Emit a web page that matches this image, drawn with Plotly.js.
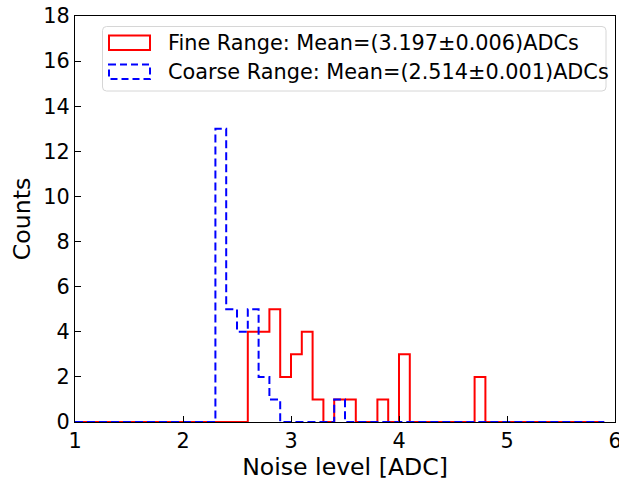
<!DOCTYPE html>
<html><head><meta charset="utf-8">
<script src="https://cdn.plot.ly/plotly-3.0.1.min.js"></script>
<style>body{margin:0;padding:0;background:#fff}#chart{width:619px;height:482px}</style>
</head><body><div id="chart"></div>
<script>
// bin edges 1.0 .. 5.9 step 0.1 (49 bins)
const binStart = 1.0, binWidth = 0.1;
// counts per bin, from bin [1.0,1.1) onward
const fineCounts = [0,0,0,0,0,0,0,0,0,0, 0,0,0,0,0,0,4,4,5,2, 3,4,1,0,1,1,0,0,1,0, 3,0,0,0,0,0,0,2,0,0, 0,0,0,0,0,0,0,0,0];
const coarseCounts = [0,0,0,0,0,0,0,0,0,0, 0,0,0,13,5,4,5,2,1,0, 0,0,0,0,1,0,0,0,0,0, 0,0,0,0,0,0,0,0,0,0, 0,0,0,0,0,0,0,0,0];
const seriesNames = ["Fine Range: Mean=(3.197±0.006)ADCs", "Coarse Range: Mean=(2.514±0.001)ADCs"];
const xTicks = [1,2,3,4,5,6];
const yTicks = [0,2,4,6,8,10,12,14,16,18];

function stepXY(counts){
  const x = [], y = [];
  for (let i = 0; i <= counts.length; i++){
    x.push(+(binStart + i*binWidth).toFixed(2));
    y.push(i < counts.length ? counts[i] : 0);
  }
  return {x, y};
}
const f = stepXY(fineCounts), c = stepXY(coarseCounts);
const font = "DejaVu Sans, sans-serif";
const RED = '#ff0000', BLUE = '#0000ff', DASH = '8px,4px';
const traces = [
  {x: f.x, y: f.y, type: 'scatter', mode: 'lines', name: seriesNames[0], showlegend: false,
   line: {shape: 'hv', color: RED, width: 2}},
  {x: c.x, y: c.y, type: 'scatter', mode: 'lines', name: seriesNames[1], showlegend: false,
   line: {shape: 'hv', color: BLUE, width: 2, dash: DASH}}
];

// plot-area geometry (pixels) for legend placement
const W = 619, H = 482, ML = 75, MR = 4, MT = 16, MB = 60;
const PW = W - ML - MR, PH = H - MT - MB;
const px = x => (x - ML) / PW;
const py = y => 1 - (y - MT) / PH;
function roundRect(x0, y0, x1, y1, r){
  const rx = r / PW, ry = r / PH;
  const X0 = px(x0), X1 = px(x1), Y0 = py(y0), Y1 = py(y1);
  return `M${X0+rx},${Y0} L${X1-rx},${Y0} Q${X1},${Y0} ${X1},${Y0-ry} L${X1},${Y1+ry} Q${X1},${Y1} ${X1-rx},${Y1} ` +
         `L${X0+rx},${Y1} Q${X0},${Y1} ${X0},${Y1+ry} L${X0},${Y0-ry} Q${X0},${Y0} ${X0+rx},${Y0} Z`;
}
const shapes = [
  {type: 'path', xref: 'paper', yref: 'paper', path: roundRect(102.5, 26.5, 606, 91, 4),
   fillcolor: 'rgba(255,255,255,0.8)', line: {color: '#d6d6d6', width: 1}},
  {type: 'rect', xref: 'paper', yref: 'paper', x0: px(109), x1: px(150), y0: py(35.5), y1: py(50),
   line: {color: RED, width: 2}, fillcolor: 'rgba(0,0,0,0)'},
  {type: 'rect', xref: 'paper', yref: 'paper', x0: px(109), x1: px(150), y0: py(64.5), y1: py(79),
   line: {color: BLUE, width: 2, dash: '7px,4px'}, fillcolor: 'rgba(0,0,0,0)'}
];
const annotations = [
  {xref: 'paper', yref: 'paper', x: px(166), y: py(43), xanchor: 'left', yanchor: 'middle', showarrow: false,
   text: seriesNames[0], font: {size: 20.8, family: font, color: '#000'}},
  {xref: 'paper', yref: 'paper', x: px(166), y: py(72), xanchor: 'left', yanchor: 'middle', showarrow: false,
   text: seriesNames[1], font: {size: 20.8, family: font, color: '#000'}}
];
const layout = {
  width: W, height: H,
  margin: {l: ML, r: MR, t: MT, b: MB},
  paper_bgcolor: '#fff', plot_bgcolor: '#fff',
  font: {family: font, color: '#000'},
  showlegend: false,
  shapes, annotations,
  xaxis: {range: [1, 6], tickvals: xTicks, ticktext: xTicks.map(String), ticks: 'inside', ticklen: 6,
    tickcolor: '#000', showline: true, mirror: true, linecolor: '#000', linewidth: 1, showgrid: false,
    zeroline: false, tickfont: {size: 20.8, family: font}, ticklabeloverflow: 'allow',
    title: {text: 'Noise level [ADC]', font: {size: 23.6, family: font}, standoff: 6}},
  yaxis: {range: [0, 18], tickvals: yTicks, ticktext: yTicks.map(String), ticks: 'inside', ticklen: 6,
    tickcolor: '#000', showline: true, mirror: true, linecolor: '#000', linewidth: 1, showgrid: false,
    zeroline: false, tickfont: {size: 20.8, family: font},
    title: {text: 'Counts', font: {size: 23.6, family: font}, standoff: 6}}
};
Plotly.newPlot('chart', traces, layout, {displayModeBar: false, staticPlot: true});
</script></body></html>
